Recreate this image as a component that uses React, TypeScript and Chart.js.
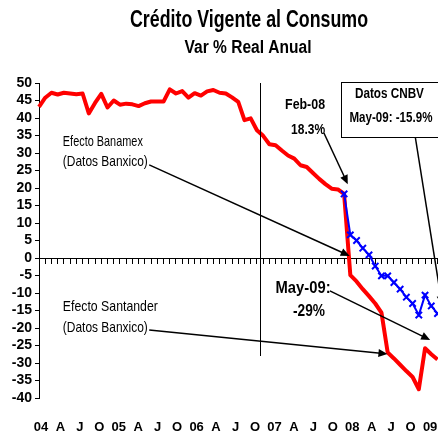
import React, { useEffect, useRef } from 'react';
import { Chart, registerables } from 'chart.js';

Chart.register(...registerables);

// ---------- data ----------
const YEARS = ['04', '05', '06', '07', '08', '09'];
const MONTH_ABBR = ['Ene', 'Feb', 'Mar', 'Abr', 'May', 'Jun', 'Jul', 'Ago', 'Sep', 'Oct', 'Nov', 'Dic'];
const N_MONTHS = 65; // Ene-04 .. May-09
const MONTHS: string[] = [];
YEARS.forEach((y) => MONTH_ABBR.forEach((m) => MONTHS.push(`${m}-${y}`)));
MONTHS.length = N_MONTHS;

// Banxico series (red), monthly Ene-04 .. May-09
const BANXICO = [
  43.2, 45.8, 47.2, 46.7, 47.2, 47.0, 46.8, 47.0, 41.3, 44.3, 46.9, 43.0,
  45.0, 43.8, 44.1, 43.9, 43.4, 44.2, 44.7, 44.7, 44.7, 48.2, 47.0, 47.7,
  45.8, 47.1, 46.4, 47.6, 48.0, 47.2, 47.0, 45.9, 44.6, 39.4, 39.9, 36.5,
  34.9, 32.5, 32.2, 30.7, 29.3, 28.4, 26.5, 26.0, 24.3, 22.6, 21.1, 19.8,
  19.6, 18.3, -4.9, -6.7, -8.9, -10.9, -13.0, -15.6, -27.0, -28.7, -30.5, -32.3,
  -34.0, -37.5, -25.8, -27.5, -29.0,
];

// CNBV series (blue), Feb-08 .. May-09
const CNBV_FROM = 'Feb-08';
const CNBV_VALUES = [18.3, 6.6, 5.0, 2.8, 0.9, -2.3, -5.1, -5.1, -7.0, -8.9, -11.2, -13.0, -16.3, -10.6, -13.7, -15.9];
const CNBV_START = MONTHS.indexOf(CNBV_FROM);
const CNBV = MONTHS.map((_, i) => (i >= CNBV_START ? CNBV_VALUES[i - CNBV_START] : null));

const QUARTER_LABELS = ['04', 'A', 'J', 'O', '05', 'A', 'J', 'O', '06', 'A', 'J', 'O', '07', 'A', 'J', 'O', '08', 'A', 'J', 'O', '09', 'A'];

const Y_MIN = -40;
const Y_MAX = 50;
const Y_STEP = 5;

const TITLE = 'Crédito Vigente al Consumo';
const SUBTITLE = 'Var % Real Anual';

// ---------- styling ----------
const FONT = '"Liberation Sans", Arial, sans-serif';
const W = 444;
const H = 440;

type Txt = { t: string; x: number; v: number; bold?: boolean; size: number; align: CanvasTextAlign; maxW: number };
const TEXTS: Txt[] = [
  { t: 'Efecto Banamex', x: 3.83, v: 33.1, size: 15, align: 'left', maxW: 80 },
  { t: '(Datos Banxico)', x: 3.83, v: 27.4, size: 15, align: 'left', maxW: 85 },
  { t: 'Efecto Santander', x: 3.83, v: -14.0, size: 15, align: 'left', maxW: 95 },
  { t: '(Datos Banxico)', x: 3.83, v: -20.0, size: 15, align: 'left', maxW: 85 },
  { t: 'Feb-08', x: 42.73, v: 43.7, bold: true, size: 15, align: 'center', maxW: 40 },
  { t: '18.3%', x: 43.21, v: 36.6, bold: true, size: 15, align: 'center', maxW: 34 },
  { t: 'May-09:', x: 42.41, v: -8.6, bold: true, size: 16, align: 'center', maxW: 55 },
  { t: '-29%', x: 43.37, v: -15.4, bold: true, size: 16, align: 'center', maxW: 32 },
  { t: 'Datos CNBV', x: 56.28, v: 46.9, bold: true, size: 15, align: 'center', maxW: 69 },
  { t: 'May-09: -15.9%', x: 56.52, v: 40.0, bold: true, size: 15, align: 'center', maxW: 83 },
];
type Arr = { x1: number; v1: number; x2: number; v2: number; head: boolean };
const ARROWS: Arr[] = [
  { x1: 17.7, v1: 26.6, x2: 49.9, v2: 0.6, head: true },
  { x1: 17.7, v1: -20.6, x2: 55.96, v2: -27.4, head: true },
  { x1: 45.76, v1: 35.7, x2: 49.59, v2: 21.1, head: true },
  { x1: 46.72, v1: -9.4, x2: 62.82, v2: -23.4, head: true },
  { x1: 60.43, v1: 34.57, x2: 64.73, v2: -13.4, head: true },
];
const BOX = { x1: 48.47, v1: 50.29, x2: 66, v2: 34.57 };
const VLINE = { x: 35.56, v1: 50, v2: -28 };

function drawArrow(ctx: CanvasRenderingContext2D, x1: number, y1: number, x2: number, y2: number, head: boolean) {
  const a = Math.atan2(y2 - y1, x2 - x1);
  const L = 9;
  const hw = 4;
  const ex = head ? x2 - (L - 2) * Math.cos(a) : x2;
  const ey = head ? y2 - (L - 2) * Math.sin(a) : y2;
  ctx.beginPath();
  ctx.moveTo(x1, y1);
  ctx.lineTo(ex, ey);
  ctx.stroke();
  if (head) {
    ctx.beginPath();
    ctx.moveTo(x2, y2);
    ctx.lineTo(x2 - L * Math.cos(a) + hw * Math.sin(a), y2 - L * Math.sin(a) - hw * Math.cos(a));
    ctx.lineTo(x2 - L * Math.cos(a) - hw * Math.sin(a), y2 - L * Math.sin(a) + hw * Math.cos(a));
    ctx.closePath();
    ctx.fill();
  }
}

const annotPlugin = {
  id: 'annot',
  afterDraw(chart: any) {
    const ctx: CanvasRenderingContext2D = chart.ctx;
    const xs = chart.scales.x;
    const ys = chart.scales.y;
    const px = (i: number) => xs.getPixelForValue(i);
    const py = (v: number) => ys.getPixelForValue(v);
    ctx.save();
    ctx.fillStyle = '#000';
    ctx.strokeStyle = '#000';
    ctx.textBaseline = 'middle';

    // titles
    ctx.textAlign = 'center';
    ctx.font = `bold 23px ${FONT}`;
    ctx.fillText(TITLE, 249, 21, 238);
    ctx.font = `bold 18px ${FONT}`;
    ctx.fillText(SUBTITLE, 248, 48, 127);

    // vertical line
    ctx.lineWidth = 1;
    ctx.beginPath();
    ctx.moveTo(Math.round(px(VLINE.x)) + 0.5, py(VLINE.v1));
    ctx.lineTo(Math.round(px(VLINE.x)) + 0.5, py(VLINE.v2));
    ctx.stroke();

    // box
    const bx1 = Math.round(px(BOX.x1)) + 0.5;
    const by1 = Math.round(py(BOX.v1)) + 0.5;
    const bx2 = px(BOX.x2);
    const by2 = Math.round(py(BOX.v2)) + 0.5;
    ctx.fillStyle = '#fff';
    ctx.fillRect(bx1, by1, bx2 - bx1, by2 - by1);
    ctx.strokeRect(bx1, by1, bx2 - bx1, by2 - by1);
    ctx.fillStyle = '#000';

    // arrows
    ctx.lineWidth = 1.5;
    ARROWS.forEach((a) => drawArrow(ctx, px(a.x1), py(a.v1), px(a.x2), py(a.v2), a.head));

    // texts
    TEXTS.forEach((t) => {
      ctx.font = `${t.bold ? 'bold ' : ''}${t.size}px ${FONT}`;
      ctx.textAlign = t.align;
      ctx.fillText(t.t, px(t.x), py(t.v), t.maxW);
    });
    ctx.restore();
  },
};

const noPad = (s: any) => {
  s.paddingLeft = 0;
  s.paddingRight = 0;
};

export default function App() {
  const ref = useRef<HTMLCanvasElement | null>(null);
  useEffect(() => {
    document.body.style.margin = '0';
    const canvas = ref.current!;
    const chart = new Chart(canvas, {
      type: 'line',
      data: {
        labels: MONTHS,
        datasets: [
          {
            label: 'Datos CNBV',
            data: CNBV as any,
            borderColor: '#0000FF',
            backgroundColor: '#0000FF',
            borderWidth: 2,
            pointStyle: 'crossRot',
            pointRadius: 4.5,
            pointBorderWidth: 2,
            pointBorderColor: '#0000FF',
            tension: 0,
          },
          {
            label: 'Banxico',
            data: BANXICO,
            borderColor: '#FF0000',
            backgroundColor: '#FF0000',
            borderWidth: 4,
            pointRadius: 0,
            tension: 0,
            borderJoinStyle: 'round',
          },
        ],
      },
      options: {
        responsive: false,
        animation: false,
        devicePixelRatio: 1,
        layout: { padding: { top: 83, right: 4, left: 0, bottom: 0 } },
        plugins: {
          legend: { display: false },
          tooltip: { enabled: false },
          title: { display: false },
        },
        scales: {
          x: {
            type: 'category',
            position: { y: 0 } as any,
            offset: false,
            grid: { display: true, drawOnChartArea: false, drawTicks: true, tickLength: 5, color: '#000', lineWidth: 1, offset: false },
            border: { display: true, color: '#000', width: 1 },
            ticks: { display: false, autoSkip: false },
            afterFit: noPad,
          } as any,
          xq: {
            type: 'linear',
            position: 'bottom',
            min: -0.1,
            max: 20.38,
            grid: { display: false },
            border: { display: false },
            ticks: {
              autoSkip: false,
              maxRotation: 0,
              padding: 14,
              color: '#000',
              font: { family: FONT, size: 13, weight: 'bold' },
              callback: (v: any) => QUARTER_LABELS[v] ?? '',
            },
            afterBuildTicks: (s: any) => {
              s.ticks = QUARTER_LABELS.map((_, k) => ({ value: k })).filter((t) => t.value <= s.max && t.value >= s.min);
            },
            afterFit: (s: any) => {
              s.height = 42;
              noPad(s);
            },
          } as any,
          y: {
            type: 'linear',
            position: 'left',
            min: Y_MIN,
            max: Y_MAX,
            ticks: { stepSize: Y_STEP, autoSkip: false, color: '#000', padding: 3, font: { family: FONT, size: 14, weight: 'bold' } },
            grid: { display: true, drawOnChartArea: false, drawTicks: true, tickLength: 4, color: '#000' },
            border: { display: true, color: '#000', width: 1 },
            afterFit: (s: any) => {
              s.width = 39;
            },
          },
        },
      },
      plugins: [annotPlugin],
    });
    return () => chart.destroy();
  }, []);
  return (
    <div style={{ width: 438, height: 440, overflow: 'hidden', background: '#fff' }}>
      <canvas ref={ref} width={W} height={H} style={{ width: W, height: H, display: 'block' }} />
    </div>
  );
}
